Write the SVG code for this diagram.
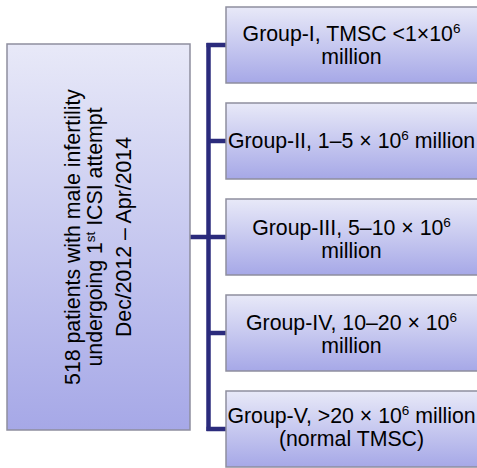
<svg xmlns="http://www.w3.org/2000/svg" width="477" height="468" viewBox="0 0 477 468">
<defs>
<linearGradient id="g" x1="0" y1="0" x2="0" y2="1">
<stop offset="0" stop-color="#e8e9f8"/>
<stop offset="1" stop-color="#a6a8e7"/>
</linearGradient>
<style>
.box{fill:url(#g);stroke:#8e8e9e;stroke-width:1.5}
.t{font-family:"Liberation Sans",Arial,sans-serif;font-size:21.3px;fill:#000;text-anchor:middle}
.c{stroke:#2b2b7c;stroke-width:4.5;fill:none}
</style>
</defs>
<rect width="477" height="468" fill="#fff"/>
<g id="connectors">
<line class="c" x1="190" y1="237" x2="208.5" y2="237"/>
<line class="c" x1="208.5" y1="43" x2="208.5" y2="431"/>
<line class="c" x1="206.5" y1="45" x2="226" y2="45"/>
<line class="c" x1="208.5" y1="141" x2="226" y2="141"/>
<line class="c" x1="208.5" y1="237" x2="226" y2="237"/>
<line class="c" x1="208.5" y1="333" x2="226" y2="333"/>
<line class="c" x1="206.5" y1="429" x2="226" y2="429"/>
</g>
<g id="source">
<rect class="box" x="7" y="44" width="183" height="386"/>
<g transform="translate(0,237) rotate(-90)">
<text class="t" x="0" y="80">518 patients with male infertility</text>
<text class="t" x="0" y="102">undergoing 1<tspan font-size="13.5" dy="-7">st</tspan><tspan dy="7"> ICSI attempt</tspan></text>
<text class="t" x="0" y="131">Dec/2012 – Apr/2014</text>
</g>
</g>
<g id="group1">
<rect class="box" x="226" y="7" width="252" height="76"/>
<text class="t" x="351.5" y="41">Group-I, TMSC &lt;1×10<tspan font-size="13.5" dy="-8">6</tspan></text>
<text class="t" x="351.5" y="64">million</text>
</g>
<g id="group2">
<rect class="box" x="226" y="103" width="252" height="76"/>
<text class="t" x="351.5" y="148">Group-II, 1–5 × 10<tspan font-size="13.5" dy="-8">6</tspan><tspan dy="8"> million</tspan></text>
</g>
<g id="group3">
<rect class="box" x="226" y="199" width="252" height="76"/>
<text class="t" x="351.5" y="235">Group-III, 5–10 × 10<tspan font-size="13.5" dy="-8">6</tspan></text>
<text class="t" x="351.5" y="258">million</text>
</g>
<g id="group4">
<rect class="box" x="226" y="295" width="252" height="76"/>
<text class="t" x="351.5" y="330">Group-IV, 10–20 × 10<tspan font-size="13.5" dy="-8">6</tspan></text>
<text class="t" x="351.5" y="353">million</text>
</g>
<g id="group5">
<rect class="box" x="226" y="391" width="252" height="76"/>
<text class="t" x="351.5" y="423">Group-V, &gt;20 × 10<tspan font-size="13.5" dy="-8">6</tspan><tspan dy="8"> million</tspan></text>
<text class="t" x="351.5" y="446">(normal TMSC)</text>
</g>
</svg>
